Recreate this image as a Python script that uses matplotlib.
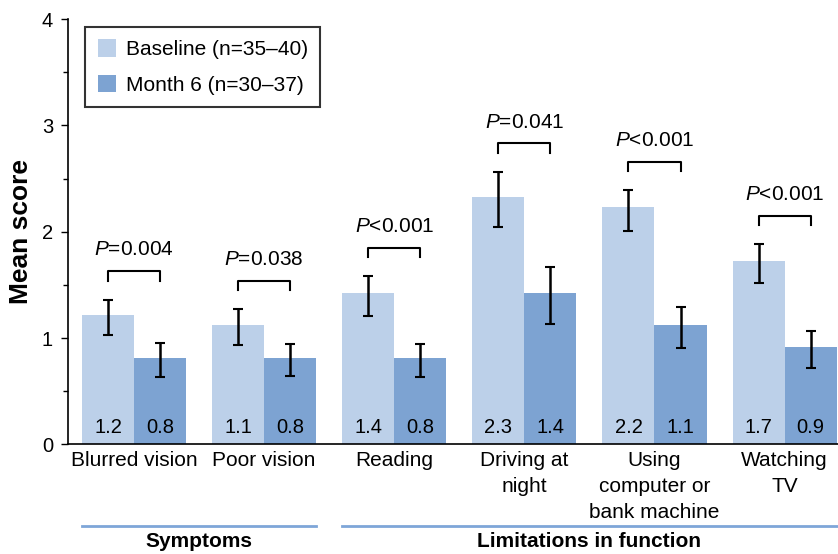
import matplotlib
matplotlib.use("Agg")
import matplotlib.pyplot as plt
import numpy as np

plt.rcParams['font.family'] = ['Liberation Sans', 'DejaVu Sans']
plt.rcParams['mathtext.fontset'] = 'custom'
plt.rcParams['mathtext.rm'] = 'Liberation Sans'
plt.rcParams['mathtext.it'] = 'Liberation Sans:italic'

# data
categories = ['Blurred vision', 'Poor vision', 'Reading', 'Driving at\nnight',
              'Using\ncomputer or\nbank machine', 'Watching\nTV']
baseline = [1.22, 1.12, 1.42, 2.33, 2.23, 1.72]
month6 = [0.81, 0.81, 0.81, 1.42, 1.12, 0.92]
baseline_lbl = ['1.2', '1.1', '1.4', '2.3', '2.2', '1.7']
month6_lbl = ['0.8', '0.8', '0.8', '1.4', '1.1', '0.9']
baseline_lo = [1.03, 0.93, 1.21, 2.04, 2.01, 1.52]
baseline_hi = [1.36, 1.27, 1.58, 2.56, 2.39, 1.88]
month6_lo = [0.63, 0.64, 0.63, 1.13, 0.91, 0.72]
month6_hi = [0.95, 0.94, 0.94, 1.67, 1.29, 1.07]
pvals = ['=0.004', '=0.038', '<0.001', '=0.041', '<0.001', '<0.001']
groups = [('Symptoms', 0, 1), ('Limitations in function', 2, 5)]

c_base = '#bcd0e9'
c_m6 = '#7da3d2'

fig = plt.figure(figsize=(8.38, 5.54), dpi=100)
ax = fig.add_axes([0.0815, 0.198, 0.918, 0.7675])

x = np.arange(len(categories))
w = 0.4
b = np.array(baseline)
m = np.array(month6)

ax.bar(x - w/2, b, w, color=c_base, label='Baseline (n=35\u201340)')
ax.bar(x + w/2, m, w, color=c_m6, label='Month 6 (n=30\u201337)')

err_b = [b - np.array(baseline_lo), np.array(baseline_hi) - b]
err_m = [m - np.array(month6_lo), np.array(month6_hi) - m]
ax.errorbar(x - w/2, b, yerr=err_b, fmt='none', ecolor='black', elinewidth=1.8,
            capsize=3.5, capthick=1.5)
ax.errorbar(x + w/2, m, yerr=err_m, fmt='none', ecolor='black', elinewidth=1.8,
            capsize=3.5, capthick=1.5)

for i in range(len(categories)):
    ax.text(x[i] - w/2, 0.16, baseline_lbl[i], ha='center', va='center', fontsize=14.5)
    ax.text(x[i] + w/2, 0.16, month6_lbl[i], ha='center', va='center', fontsize=14.5)
    top = max(baseline_hi[i], month6_hi[i]) + 0.27
    ax.plot([x[i] - w/2, x[i] - w/2, x[i] + w/2, x[i] + w/2],
            [top - 0.09, top, top, top - 0.09], color='black', lw=1.5)
    ax.text(x[i], top + 0.2, '$P$' + pvals[i], ha='center', va='center', fontsize=15)

ax.set_xlim(-0.505, 5.407)
ax.set_ylim(0, 4)
ax.set_yticks([0, 1, 2, 3, 4])
ax.set_yticks([0.5, 1.5, 2.5, 3.5], minor=True)
ax.tick_params(axis='y', which='major', length=5, width=1, labelsize=14.5, pad=6)
ax.tick_params(axis='y', which='minor', length=3.5, width=1)
ax.set_xticks(x)
ax.set_xticklabels(categories, fontsize=15, linespacing=1.45)
ax.tick_params(axis='x', length=0, pad=5)
ax.spines['top'].set_visible(False)
ax.spines['right'].set_visible(False)
ax.spines['left'].set_linewidth(1.2)
ax.spines['bottom'].set_linewidth(1.2)

ax.set_ylabel('Mean score', fontsize=19, fontweight='bold')
ax.yaxis.set_label_coords(-0.046, 0.5)

trans = ax.get_xaxis_transform()
for name, g0, g1 in groups:
    ax.plot([g0 - w, g1 + w], [-0.191, -0.191], color='#7ea6d8', lw=2,
            transform=trans, clip_on=False)
    ax.text((g0 + g1) / 2, -0.229, name, ha='center', va='center', fontsize=15,
            fontweight='bold', transform=trans)

leg = ax.legend(loc='upper left', bbox_to_anchor=(0.022, 0.982), fontsize=15,
                frameon=True, fancybox=False, edgecolor='black', handlelength=0.9,
                handleheight=0.9, handletextpad=0.45, labelspacing=0.75,
                borderpad=0.6, borderaxespad=0)
leg.get_frame().set_linewidth(1.5)

fig.savefig('out.png', dpi=100)
